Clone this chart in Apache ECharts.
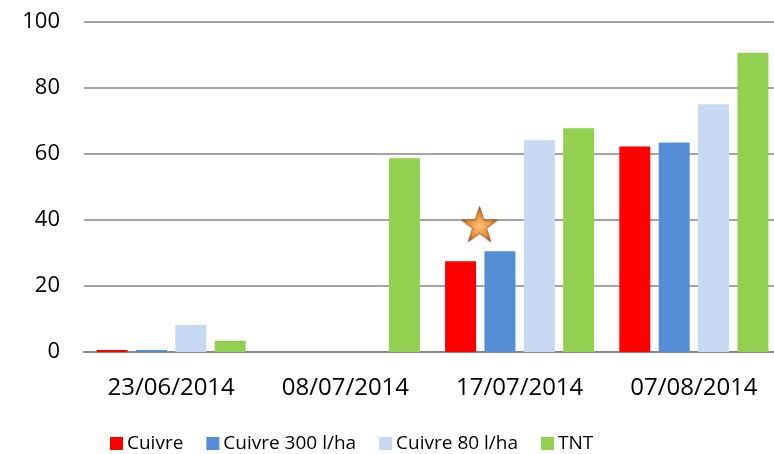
<!DOCTYPE html>
<html>
<head>
<meta charset="utf-8">
<script src="https://cdn.jsdelivr.net/npm/echarts@6/dist/echarts.min.js"></script>
<style>
  html, body { margin: 0; padding: 0; background: #fff; overflow: hidden; }
  /* a little wider than the window: the plot runs past the right edge, as in the original */
  #chart { width: 781px; height: 454px; }
</style>
</head>
<body>
<div id="chart"></div>
<script>
// dates on the x axis
var dates = ['23/06/2014', '08/07/2014', '17/07/2014', '07/08/2014'];
var yTicks = [0, 20, 40, 60, 80, 100];

// series values
var cuivre    = [0.6, 0, 27.5, 62.3];
var cuivre300 = [0.6, 0, 30.5, 63.5];
var cuivre80  = [8.2, 0, 64.2, 75.1];
var tnt       = [3.4, 58.7, 67.8, 90.7];

// the star drawn above the 17/07 bars
var starPoint = ['17/07/2014', 38.8];

var starPath = 'path://M50,0 L61.8,35.5 L99,35.5 L68.9,57.5 L80.4,93 L50,71 L19.6,93 L31.1,57.5 L1,35.5 L38.2,35.5 Z';
var fontFam = '"Open Sans", "Liberation Sans", sans-serif';

function bar(name, data, color, extra) {
    var s = {
        name: name,
        type: 'bar',
        data: data,
        barWidth: 31,
        barGap: '27%',
        itemStyle: { color: color }
    };
    if (extra) {
        for (var k in extra) s[k] = extra[k];
    }
    return s;
}

var option = {
    animation: false,
    textStyle: { fontFamily: fontFam },
    grid: { left: 84, right: 0, top: 22, bottom: 102, containLabel: false },
    legend: {
        bottom: -4,
        left: 105,
        itemWidth: 13,
        itemHeight: 13,
        itemGap: 23,
        icon: 'rect',
        textStyle: { fontSize: 19, color: '#000', fontFamily: fontFam, padding: [0, 0, 0, -1] },
        data: ['Cuivre', 'Cuivre 300 l/ha', 'Cuivre 80 l/ha', 'TNT']
    },
    xAxis: {
        type: 'category',
        data: dates,
        axisLine: { lineStyle: { color: '#868686', width: 2 } },
        axisTick: { show: false },
        axisLabel: { fontSize: 24, color: '#000', margin: 24 }
    },
    yAxis: {
        type: 'value',
        min: yTicks[0],
        max: yTicks[yTicks.length - 1],
        interval: 20,
        axisLine: { show: false },
        axisTick: { show: false },
        axisLabel: { fontSize: 22, color: '#000', margin: 24 },
        splitLine: { lineStyle: { color: '#868686', width: 1.5 } }
    },
    series: [
        bar('Cuivre', cuivre, '#FF0000', {
            markPoint: {
                symbol: starPath,
                symbolSize: [36, 35],
                symbolOffset: [19, 0],
                label: { show: false },
                itemStyle: {
                    color: {
                        type: 'radial', x: 0.5, y: 0.55, r: 0.55,
                        colorStops: [
                            { offset: 0, color: '#FAC27A' },
                            { offset: 0.55, color: '#EC9038' },
                            { offset: 1, color: '#B05812' }
                        ]
                    },
                    borderColor: '#9C4E12',
                    borderWidth: 0.6,
                    shadowColor: 'rgba(0,0,0,0.25)',
                    shadowBlur: 2,
                    shadowOffsetY: 1
                },
                data: [{ coord: starPoint }]
            }
        }),
        bar('Cuivre 300 l/ha', cuivre300, '#558ED5'),
        bar('Cuivre 80 l/ha', cuivre80, '#C6D9F1'),
        bar('TNT', tnt, '#92D050')
    ]
};

var chart = echarts.init(document.getElementById('chart'));
chart.setOption(option);
</script>
</body>
</html>
